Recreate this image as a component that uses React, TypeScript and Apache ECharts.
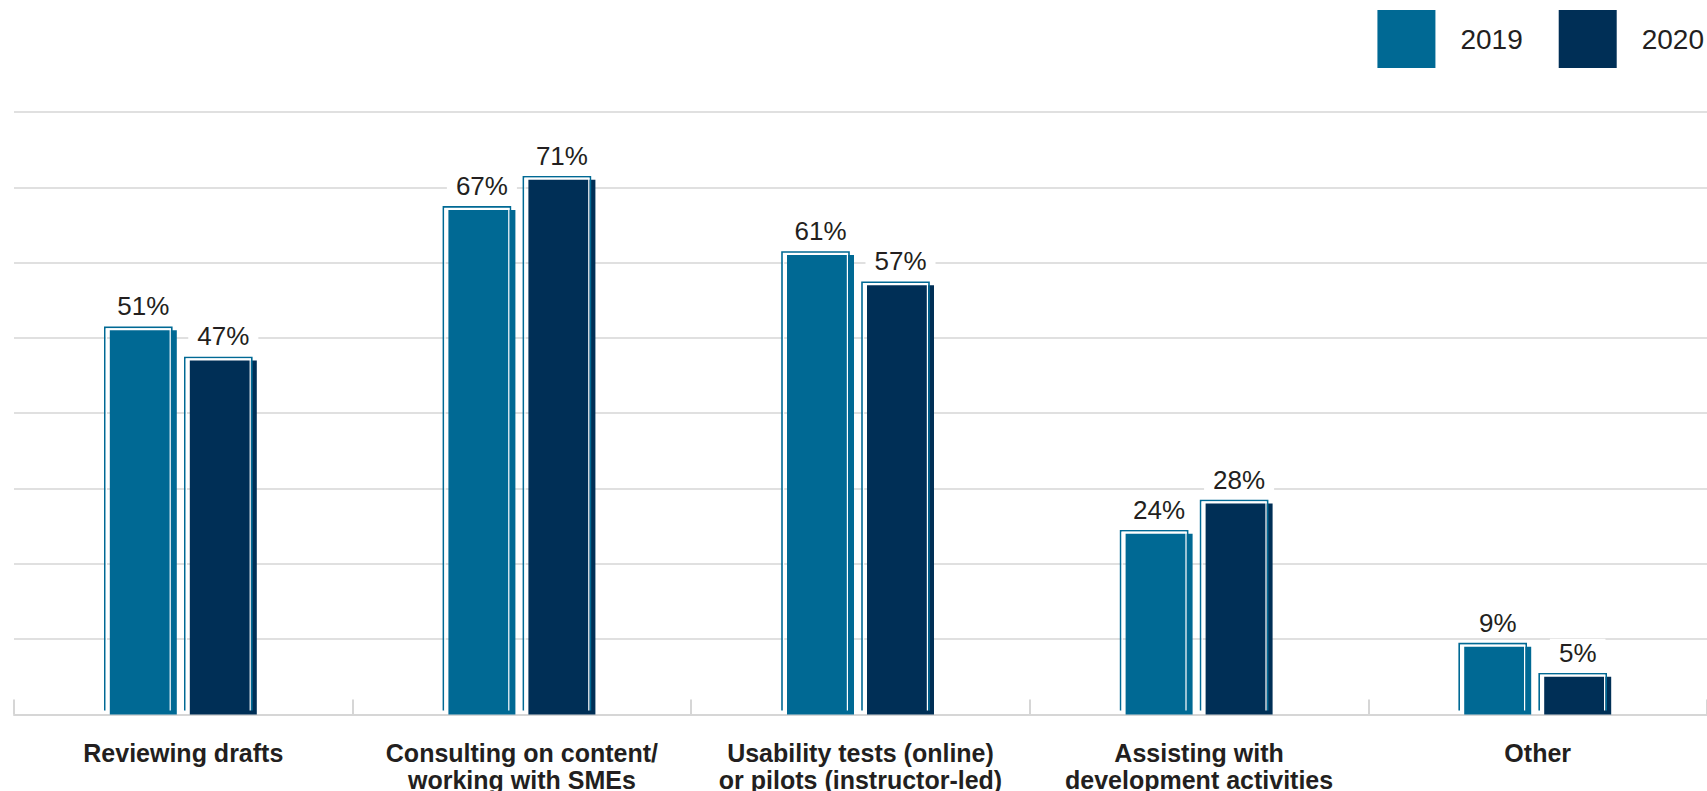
import React, { useEffect, useRef } from "react";
import * as echarts from "echarts";

const categories = [
  "Reviewing drafts",
  "Consulting on content/\nworking with SMEs",
  "Usability tests (online)\nor pilots (instructor-led)",
  "Assisting with\ndevelopment activities",
  "Other",
];
const values2019 = [51, 67, 61, 24, 9];
const values2020 = [47, 71, 57, 28, 5];
const seriesNames = ["2019", "2020"];

const C2019 = "#006994";
const C2020 = "#002f56";
const TEXT = "#231f20";
const GRID = "#d6d6d6";
const FONT = "'Liberation Sans', Arial, sans-serif";

export default function App() {
  const ref = useRef<HTMLDivElement>(null);

  useEffect(() => {
    if (!ref.current) return;
    const chart = echarts.init(ref.current, null, { renderer: "svg" });

    const outlineData = [
      ...values2019.map((v, i) => [i, v, 0]),
      ...values2020.map((v, i) => [i, v, 1]),
    ];

    const barLabel = {
      show: true,
      position: "top",
      distance: 10,
      formatter: "{c}%",
      color: TEXT,
      fontSize: 26,
      fontFamily: FONT,
      backgroundColor: "#ffffff",
      padding: [1, 9],
    };

    chart.setOption({
      animation: false,
      backgroundColor: "#ffffff",
      legend: {
        data: seriesNames,
        orient: "horizontal",
        right: 3,
        top: 10,
        padding: 0,
        icon: "rect",
        itemWidth: 58,
        itemHeight: 58,
        itemGap: 36,
        selectedMode: false,
        textStyle: {
          color: TEXT,
          fontSize: 28,
          fontFamily: FONT,
          padding: [0, 0, 0, 20],
        },
      },
      grid: {
        left: 14,
        right: 0,
        top: 112,
        bottom: 76.6,
        containLabel: false,
        outerBoundsMode: "none",
      },
      xAxis: {
        type: "category",
        data: categories,
        axisLine: { show: true, lineStyle: { color: GRID, width: 2 } },
        axisTick: { show: true, inside: true, length: 15, lineStyle: { color: GRID, width: 2 } },
        axisLabel: {
          interval: 0,
          margin: 25,
          color: TEXT,
          fontSize: 25,
          fontWeight: "bold",
          fontFamily: FONT,
          lineHeight: 27,
        },
      },
      yAxis: {
        type: "value",
        min: 0,
        max: 80,
        interval: 10,
        axisLabel: { show: false },
        axisLine: { show: false },
        axisTick: { show: false },
        splitLine: { show: true, lineStyle: { color: GRID, width: 1.5 } },
      },
      series: [
        {
          name: "2019",
          type: "bar",
          data: values2019,
          barWidth: 67,
          barGap: "19.4%",
          itemStyle: { color: C2019 },
          label: barLabel,
          z: 2,
        },
        {
          name: "2020",
          type: "bar",
          data: values2020,
          barWidth: 67,
          barGap: "19.4%",
          itemStyle: { color: C2020 },
          label: barLabel,
          z: 2,
        },
        {
          name: "outline",
          type: "custom",
          silent: true,
          z: 3,
          clip: false,
          data: outlineData,
          encode: { x: 0, y: 1 },
          renderItem: (params: any, api: any) => {
            const cat = api.value(0);
            const v = api.value(1);
            const s = api.value(2);
            const top = api.coord([cat, v]);
            const base = api.coord([cat, 0]);
            const cx = top[0] + (s === 0 ? -40 : 40);
            const w = 67;
            const x0 = cx - w / 2 - 5;
            const x1 = cx + w / 2 - 5;
            const y0 = top[1] - 3;
            const y1 = base[1] - 4;
            return {
              type: "group",
              children: [
                {
                  type: "polyline",
                  shape: { points: [[x0, y1], [x0, y0], [x1, y0], [x1, y1]] },
                  style: { stroke: C2019, lineWidth: 1.6, fill: null },
                },
                {
                  type: "polyline",
                  shape: {
                    points: [
                      [x0 + 1.6, y1],
                      [x0 + 1.6, y0 + 1.6],
                      [x1 - 1.6, y0 + 1.6],
                      [x1 - 1.6, y1],
                    ],
                  },
                  style: { stroke: "#ffffff", lineWidth: 1.2, fill: null },
                },
              ],
            };
          },
        },
      ],
    });

    return () => chart.dispose();
  }, []);

  return (
    <div
      ref={ref}
      style={{ position: "absolute", left: 0, top: 0, width: 1707, height: 791, background: "#fff" }}
    />
  );
}
